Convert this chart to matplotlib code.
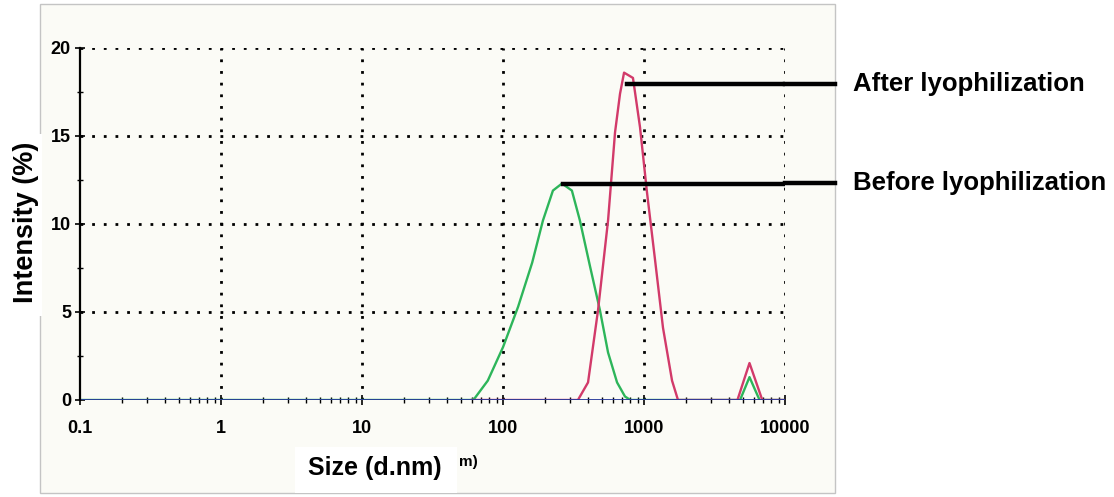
# DLS size distribution, before / after lyophilization
import matplotlib.pyplot as plt
from matplotlib.patches import Rectangle

# === Data ===
before_size = [0.1, 60, 63, 78, 100, 128, 161, 192, 226, 262, 308, 351, 414, 487,
               556, 644, 733, 800, 4800, 5600, 6600, 10000]
before_int = [0, 0, 0.1, 1.1, 3.0, 5.3, 7.8, 10.2, 11.9, 12.3, 11.9, 10.2, 7.6, 5.1,
              2.7, 1.0, 0.2, 0, 0, 1.3, 0, 0]

after_size = [60, 340, 401, 472, 556, 623, 676, 722, 835, 937, 1050, 1196, 1364,
              1581, 1742, 4600, 5600, 6900, 10000]
after_int = [0, 0, 1.0, 5.1, 10.2, 15.2, 17.4, 18.6, 18.3, 15.5, 11.8, 8.0, 4.1,
             1.1, 0, 0, 2.1, 0, 0]

x_ticks = [0.1, 1, 10, 100, 1000, 10000]
x_labels = ['0.1', '1', '10', '100', '1000', '10000']
y_ticks = [0, 5, 10, 15, 20]

# === Style ===
plt.rcParams.update({
    'font.family': ['Liberation Sans', 'DejaVu Sans'],
    'font.weight': 'bold',
})

fig = plt.figure(figsize=(11.14, 4.97), dpi=100)
W, H = 1114, 497

# scanned-page background with thin grey border (behind the axes)
fig.patches.append(Rectangle((40 / W, 4 / H), 795 / W, 489 / H, transform=fig.transFigure,
                             facecolor='#fbfbf6', edgecolor='#c4c4c4', linewidth=1,
                             zorder=-2))
# white boxes behind the axis titles
fig.patches.append(Rectangle((8 / W, (497 - 316) / H), 34 / W, 182 / H,
                             transform=fig.transFigure, facecolor='white',
                             edgecolor='none', zorder=-1))
fig.patches.append(Rectangle((295 / W, 4 / H), 162 / W, 46 / H,
                             transform=fig.transFigure, facecolor='white',
                             edgecolor='none', zorder=-1))

ax = fig.add_axes([80 / W, 97 / H, 705 / W, 352 / H])
ax.set_facecolor('none')
ax.set_xscale('log')
ax.set_xlim(0.1, 10000)
ax.set_ylim(0, 20)

# dotted grid
for xv in x_ticks[1:]:
    ax.axvline(xv, color='black', linestyle=(0, (1, 3.2)), linewidth=2, zorder=1)
for yv in y_ticks[1:]:
    ax.axhline(yv, color='black', linestyle=(0, (1, 3.2)), linewidth=2, zorder=1)

# curves + baseline
ax.plot(before_size, before_int, color='#2db55a', linewidth=1.7, zorder=3)
ax.plot(after_size, after_int, color='#d23a6a', linewidth=1.7, zorder=3)
ax.plot([0.1, 10000], [0, 0], color='#26389a', linewidth=1.3, zorder=3.5)

for s in ['top', 'right', 'bottom']:
    ax.spines[s].set_visible(False)
ax.spines['left'].set_linewidth(1.6)
ax.spines['left'].set_zorder(4)

ax.set_xticks(x_ticks)
ax.set_xticklabels(x_labels)
ax.set_yticks(y_ticks)
ax.set_yticks([2.5, 7.5, 12.5, 17.5], minor=True)
ax.tick_params(axis='both', which='major', direction='inout', length=7, width=1.2,
               labelsize=13, pad=3)
ax.tick_params(axis='both', which='minor', direction='inout', length=5, width=1.0)
ax.tick_params(axis='x', which='both', pad=11)
for lab in ax.get_xticklabels() + ax.get_yticklabels():
    lab.set_fontweight('bold')

# annotation lines to the labels
ax.plot([757, 10000], [17.95, 17.95], color='black', linewidth=3.2, zorder=5)
ax.plot([1.071, 1.0], [(400 - 84) / 352, (400 - 84) / 352], transform=ax.transAxes,
        color='black', linewidth=3.2, clip_on=False)
ax.plot([267, 10000], [12.3, 12.3], color='black', linewidth=3.2, zorder=5)
ax.plot([1.071, 1.0], [(400 - 183) / 352, (400 - 183) / 352], transform=ax.transAxes,
        color='black', linewidth=3.2, clip_on=False)
ax.text(1.097, (400 - 84) / 352, 'After lyophilization', transform=ax.transAxes,
        fontsize=18.5, fontweight='bold', va='center', ha='left')
ax.text(1.097, (400 - 183) / 352, 'Before lyophilization', transform=ax.transAxes,
        fontsize=18.5, fontweight='bold', va='center', ha='left')

# axis titles
fig.text(26 / W, (497 - 222) / H, 'Intensity (%)', rotation=90, fontsize=19.5,
         fontweight='bold', ha='center', va='center')
fig.text(375 / W, (497 - 468) / H, 'Size (d.nm)', fontsize=18, fontweight='bold',
         ha='center', va='center')
fig.text(459 / W, (497 - 462) / H, 'm)', fontsize=11, fontweight='bold',
         ha='left', va='center')

plt.savefig('out.png', dpi=100)
